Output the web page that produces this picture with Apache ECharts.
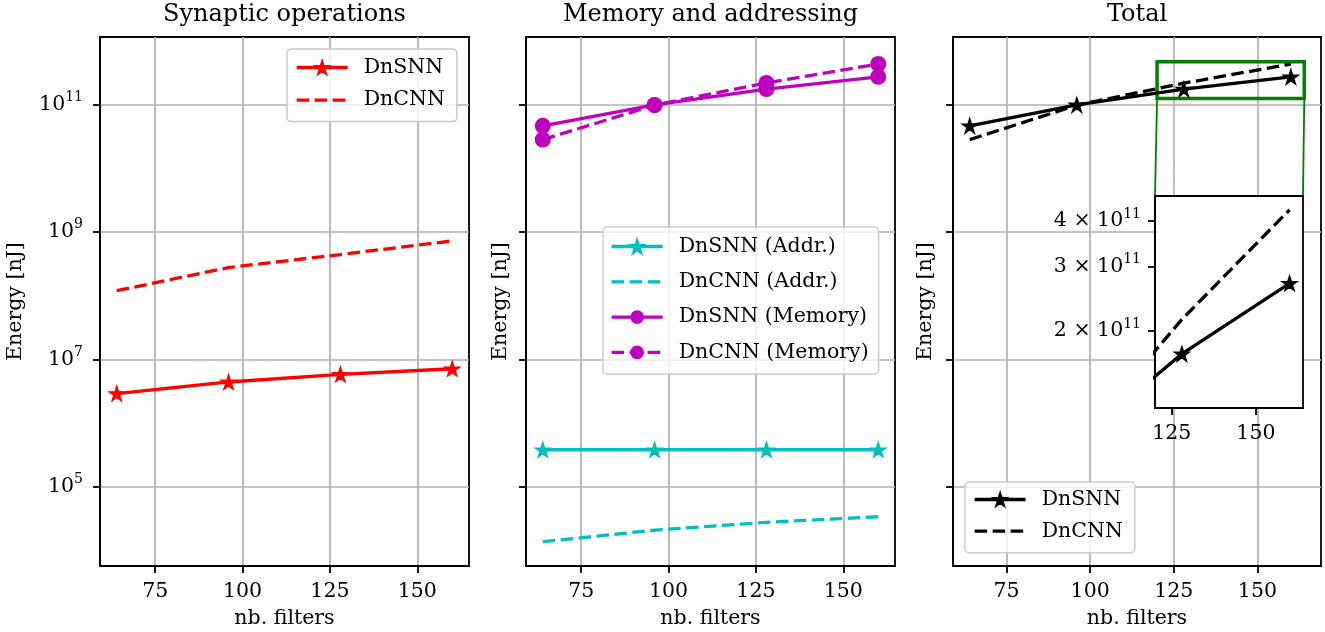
<!DOCTYPE html>
<html><head><meta charset="utf-8">
<script src="https://cdn.jsdelivr.net/npm/echarts@6/dist/echarts.min.js"></script>
<style>html,body{margin:0;padding:0;background:#fff}#c{width:1325px;height:632px}</style>
</head><body><div id="c"></div>
<script>
// ---------- data ----------
const filters = [64, 96, 128, 160];
const xTicks = [75, 100, 125, 150];
const yTicks = [1e5, 1e7, 1e9, 1e11];
const insetXTicks = [125, 150];
const insetYTicks = [2e11, 3e11, 4e11];
const panelTitles = ['Synaptic operations', 'Memory and addressing', 'Total'];

const synDnSNN = [2.9e6, 4.4e6, 5.8e6, 7.1e6];
const synDnCNN = [1.19e8, 2.75e8, 4.4e8, 7.2e8];
const addrDnSNN = [3.8e5, 3.8e5, 3.8e5, 3.8e5];
const addrDnCNN = [1.37e4, 2.08e4, 2.76e4, 3.38e4];
const memDnSNN = [4.6e10, 9.8e10, 1.74e11, 2.7e11];
const memDnCNN = [2.8e10, 9.7e10, 2.17e11, 4.3e11];
const totDnSNN = [4.6e10, 9.8e10, 1.73e11, 2.7e11];
const totDnCNN = [2.8e10, 9.7e10, 2.15e11, 4.29e11];

const yRange = [5.7e3, 1.14e12];
const xRange = [59.2, 164.8];
const xRangeTotal = [59, 169];
const zoomX = [120, 164];
const zoomY = [1.23e11, 4.68e11];

// ---------- styling ----------
const F = 'DejaVu Serif';
const FS = 20.5;
const RED = '#ff0000', CYAN = '#00bfbf', MAG = '#bf00bf', BLACK = '#000000', GREEN = '#008000';
const DASH = [12.5, 5.5];
const AXL = {color: '#000', width: 1.8};
const GRIDL = {color: '#b0b0b0', width: 1.7};

function starPath() {
  const pts = [];
  for (let i = 0; i < 10; i++) {
    const a = -Math.PI / 2 + i * Math.PI / 5;
    const r = i % 2 ? 19.1 : 50;
    pts.push((50 + r * Math.cos(a)).toFixed(2) + ' ' + (50 + r * Math.sin(a)).toFixed(2));
  }
  return 'path://M' + pts.join(' L') + ' Z';
}
const STAR = starPath();

const supRich = {
  b: {fontFamily: F, fontSize: FS, color: '#000'},
  s: {fontFamily: F, fontSize: 14, color: '#000', padding: [0, 0, 14, 0]}
};

const grids = [
  {left: 100, top: 37, width: 369, height: 529},
  {left: 526, top: 37, width: 369, height: 529},
  {left: 953, top: 37, width: 368, height: 529},
  {left: 1155, top: 196, width: 148, height: 212, z: 1}
].map(g => Object.assign({
  show: true, borderColor: '#000', borderWidth: 1.8,
  backgroundColor: g.z ? '#fff' : 'transparent',
  containLabel: false, outerBoundsMode: 'none'
}, g));

function xAxis(gi, range, ticks, withName, split) {
  return {
    type: 'value', gridIndex: gi, min: range[0], max: range[1], z: gi === 3 ? 1 : 0,
    name: withName ? 'nb. filters' : '', nameLocation: 'middle', nameGap: 42,
    nameTextStyle: {fontFamily: F, fontSize: FS, color: '#000'},
    axisLine: {show: true, onZero: false, lineStyle: AXL},
    axisTick: {show: true, inside: false, length: 7, lineStyle: AXL, customValues: ticks},
    axisLabel: {show: true, margin: 15, fontFamily: F, fontSize: FS, color: '#000', customValues: ticks},
    splitLine: {show: split, lineStyle: GRIDL}
  };
}
function yAxis(gi, showLabels, nameGap) {
  return {
    type: 'log', logBase: 10, gridIndex: gi, min: yRange[0], max: yRange[1],
    name: 'Energy [nJ]', nameLocation: 'middle', nameGap: nameGap, nameRotate: 90,
    nameTextStyle: {fontFamily: F, fontSize: FS, color: '#000'},
    axisLine: {show: true, onZero: false, lineStyle: AXL},
    axisTick: {show: true, inside: false, length: 7, lineStyle: AXL, customValues: yTicks},
    axisLabel: {
      show: showLabels, margin: 17, customValues: yTicks,
      formatter: v => '{b|10}{s|' + Math.round(Math.log10(v)) + '}', rich: supRich
    },
    minorTick: {show: false},
    splitLine: {show: true, lineStyle: GRIDL}
  };
}

function line(name, vals, gi, color, dashed, symbol, size) {
  return {
    type: 'line', name: name, xAxisIndex: gi, yAxisIndex: gi,
    data: filters.map((f, i) => [f, vals[i]]),
    symbol: symbol || 'none', symbolSize: size || 0, showSymbol: !!symbol,
    lineStyle: {color: color, width: 3.3, type: dashed ? DASH : 'solid'},
    itemStyle: {color: color, opacity: 1, borderColor: color, borderWidth: symbol === STAR ? 1.2 : 0},
    emphasis: {disabled: true}, clip: true, animation: false, silent: true
  };
}

const STAR_SIZE = [15.5, 15];
const series = [
  line('p0|DnSNN', synDnSNN, 0, RED, false, STAR, STAR_SIZE),
  line('p0|DnCNN', synDnCNN, 0, RED, true),
  line('p1|DnSNN (Addr.)', addrDnSNN, 1, CYAN, false, STAR, STAR_SIZE),
  line('p1|DnCNN (Addr.)', addrDnCNN, 1, CYAN, true),
  line('p1|DnSNN (Memory)', memDnSNN, 1, MAG, false, 'circle', 16),
  line('p1|DnCNN (Memory)', memDnCNN, 1, MAG, true, 'circle', 16),
  line('p2|DnSNN', totDnSNN, 2, BLACK, false, STAR, STAR_SIZE),
  line('p2|DnCNN', totDnCNN, 2, BLACK, true),
  line('p3|DnSNN', totDnSNN, 3, BLACK, false, STAR, STAR_SIZE),
  line('p3|DnCNN', totDnCNN, 3, BLACK, true)
];
series[6].markArea = {
  silent: true,
  itemStyle: {color: 'rgba(0,0,0,0)', borderColor: GREEN, borderWidth: 3.5},
  data: [[{xAxis: zoomX[0], yAxis: zoomY[0]}, {xAxis: zoomX[1], yAxis: zoomY[1]}]]
};

function legend(left, top, names, itemH, gap, padding) {
  return {
    orient: 'vertical', left: left, top: top, padding: padding, itemGap: gap,
    itemWidth: 51, itemHeight: itemH, selectedMode: false,
    data: names.map(n => (typeof n === 'string' ? {name: n} : n)),
    formatter: n => n.split('|')[1],
    textStyle: {fontFamily: F, fontSize: FS, color: '#000', lineHeight: 21, padding: [0, 0, 0, 11]},
    lineStyle: {width: 3.3},
    backgroundColor: 'rgba(255,255,255,0.8)', borderColor: '#cccccc', borderWidth: 1.5, borderRadius: 4
  };
}
const hideSym = {itemStyle: {opacity: 0}};

const option = {
  animation: false,
  textStyle: {fontFamily: F},
  title: panelTitles.map((t, i) => ({
    text: t, left: grids[i].left + grids[i].width / 2, top: 3, textAlign: 'center', padding: 0,
    textStyle: {fontFamily: F, fontSize: 24, fontWeight: 'normal', color: '#000'}
  })),
  grid: grids,
  xAxis: [
    xAxis(0, xRange, xTicks, true, true),
    xAxis(1, xRange, xTicks, true, true),
    xAxis(2, xRangeTotal, xTicks, true, true),
    xAxis(3, zoomX, insetXTicks, false, false)
  ],
  yAxis: [
    yAxis(0, true, 74),
    yAxis(1, false, 15),
    yAxis(2, false, 17),
    {
      type: 'log', logBase: 10, gridIndex: 3, min: zoomY[0], max: zoomY[1], z: 1,
      axisLine: {show: true, onZero: false, lineStyle: AXL},
      axisTick: {show: true, inside: false, length: 7, lineStyle: AXL, customValues: insetYTicks},
      axisLabel: {
        show: true, margin: 14, customValues: insetYTicks,
        formatter: v => '{b|' + Math.round(v / 1e11) + ' × 10}{s|11}', rich: supRich
      },
      minorTick: {show: false},
      splitLine: {show: false}
    }
  ],
  legend: [
    legend(287, 49, ['p0|DnSNN', Object.assign({name: 'p0|DnCNN'}, hideSym)], 16, 11.6, [8, 12, 11, 8]),
    legend(603, 227, ['p1|DnSNN (Addr.)', Object.assign({name: 'p1|DnCNN (Addr.)'}, hideSym),
      'p1|DnSNN (Memory)', 'p1|DnCNN (Memory)'], 17, 14.3, [9, 10, 11, 7]),
    legend(965, 482, ['p2|DnSNN', Object.assign({name: 'p2|DnCNN'}, hideSym)], 16, 10.7, [7, 12, 11, 8])
  ],
  series: series
};

const chart = echarts.init(document.getElementById('c'), null, {renderer: 'canvas'});
chart.setOption(option);

const a = chart.convertToPixel({xAxisIndex: 2, yAxisIndex: 2}, [zoomX[0], zoomY[0]]);
const b = chart.convertToPixel({xAxisIndex: 3, yAxisIndex: 3}, [zoomX[0], zoomY[1]]);
const c = chart.convertToPixel({xAxisIndex: 2, yAxisIndex: 2}, [zoomX[1], zoomY[0]]);
const d = chart.convertToPixel({xAxisIndex: 3, yAxisIndex: 3}, [zoomX[1], zoomY[1]]);
chart.setOption({
  graphic: [
    {type: 'line', silent: true, z: 0, shape: {x1: a[0], y1: a[1], x2: b[0], y2: b[1]}, style: {stroke: GREEN, lineWidth: 1.8}},
    {type: 'line', silent: true, z: 0, shape: {x1: c[0], y1: c[1], x2: d[0], y2: d[1]}, style: {stroke: GREEN, lineWidth: 1.8}}
  ]
});
</script>
</body></html>
